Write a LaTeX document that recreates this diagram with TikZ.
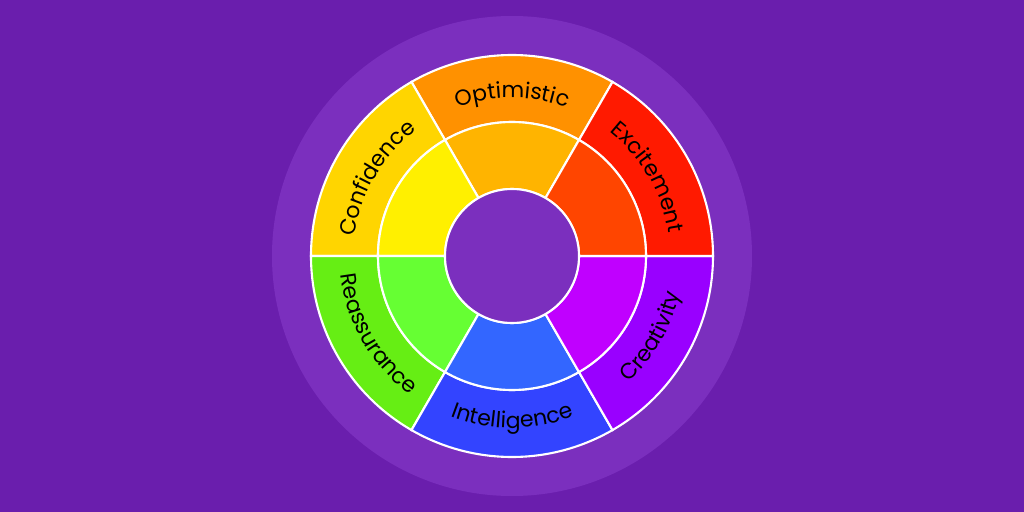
\documentclass[tikz,border=0pt]{standalone}
\usepackage{fontspec}
\setmainfont{Poppins}
\usetikzlibrary{decorations.text}

\definecolor{bgpurple}{HTML}{6A1EAD}
\definecolor{halopurple}{HTML}{7B2FBE}
\definecolor{optouter}{HTML}{FF9100}
\definecolor{optinner}{HTML}{FFB400}
\definecolor{excouter}{HTML}{FF1A00}
\definecolor{excinner}{HTML}{FF4500}
\definecolor{creouter}{HTML}{9900FF}
\definecolor{creinner}{HTML}{C000FF}
\definecolor{intouter}{HTML}{3344FF}
\definecolor{intinner}{HTML}{3366FF}
\definecolor{reaouter}{HTML}{66EE14}
\definecolor{reainner}{HTML}{66FF33}
\definecolor{conouter}{HTML}{FFD500}
\definecolor{coninner}{HTML}{FFF000}

\newcommand{\wordfont}{\fontsize{12.5}{15}\selectfont}

\begin{document}
\begin{tikzpicture}[
    scale=0.02,
    ringline/.style={draw=white, line width=1.2pt},
    wordpath/.style={decorate, decoration={text along path, text align=center, text={|\wordfont|#1}}},
]

% background and halo
\fill[bgpurple] (-512,-256) rectangle (512,256);
\useasboundingbox (-512,-256) rectangle (512,256);
\fill[halopurple] (0,0) circle[radius=240];

% outer ring
\fill[optouter, ringline] (60:201) arc[start angle=60, end angle=120, radius=201] -- (120:134) arc[start angle=120, end angle=60, radius=134] -- cycle;
\fill[conouter, ringline] (120:201) arc[start angle=120, end angle=180, radius=201] -- (180:134) arc[start angle=180, end angle=120, radius=134] -- cycle;
\fill[reaouter, ringline] (180:201) arc[start angle=180, end angle=240, radius=201] -- (240:134) arc[start angle=240, end angle=180, radius=134] -- cycle;
\fill[intouter, ringline] (240:201) arc[start angle=240, end angle=300, radius=201] -- (300:134) arc[start angle=300, end angle=240, radius=134] -- cycle;
\fill[creouter, ringline] (300:201) arc[start angle=300, end angle=360, radius=201] -- (0:134) arc[start angle=360, end angle=300, radius=134] -- cycle;
\fill[excouter, ringline] (0:201) arc[start angle=0, end angle=60, radius=201] -- (60:134) arc[start angle=60, end angle=0, radius=134] -- cycle;

% inner ring
\fill[optinner, ringline] (60:134) arc[start angle=60, end angle=120, radius=134] -- (120:67) arc[start angle=120, end angle=60, radius=67] -- cycle;
\fill[coninner, ringline] (120:134) arc[start angle=120, end angle=180, radius=134] -- (180:67) arc[start angle=180, end angle=120, radius=67] -- cycle;
\fill[reainner, ringline] (180:134) arc[start angle=180, end angle=240, radius=134] -- (240:67) arc[start angle=240, end angle=180, radius=67] -- cycle;
\fill[intinner, ringline] (240:134) arc[start angle=240, end angle=300, radius=134] -- (300:67) arc[start angle=300, end angle=240, radius=67] -- cycle;
\fill[creinner, ringline] (300:134) arc[start angle=300, end angle=360, radius=134] -- (0:67) arc[start angle=360, end angle=300, radius=67] -- cycle;
\fill[excinner, ringline] (0:134) arc[start angle=0, end angle=60, radius=134] -- (60:67) arc[start angle=60, end angle=0, radius=67] -- cycle;

% hub
\fill[halopurple, ringline] (0,0) circle[radius=67];

% words
\path[wordpath=Confidence] (180:158) arc[start angle=180, end angle=120, radius=158];
\path[wordpath=Optimistic] (120:158) arc[start angle=120, end angle=60, radius=158];
\path[wordpath=Excitement] (60:158) arc[start angle=60, end angle=0, radius=158];
\path[wordpath=Reassurance] (180:172) arc[start angle=180, end angle=240, radius=172];
\path[wordpath=Intelligence] (240:172) arc[start angle=240, end angle=300, radius=172];
\path[wordpath=Creativity] (300:172) arc[start angle=300, end angle=360, radius=172];
\end{tikzpicture}
\end{document}
